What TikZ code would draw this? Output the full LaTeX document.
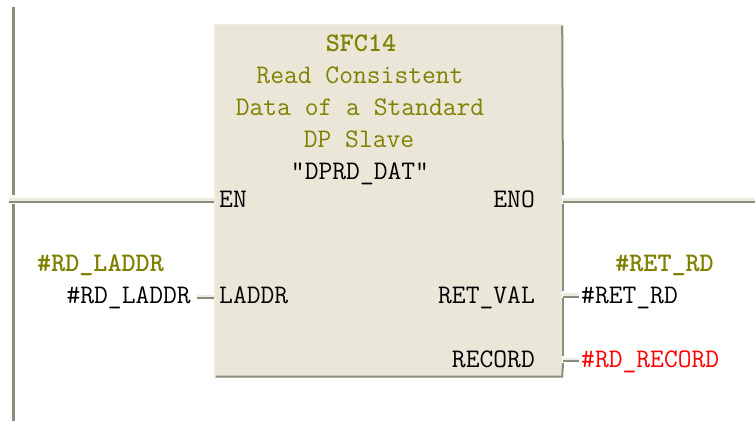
\documentclass[tikz,border=0pt]{standalone}
\definecolor{blockfill}{HTML}{EAE7D8}
\definecolor{wiredark}{HTML}{8C8B7C}
\definecolor{wirelight}{HTML}{EFECDF}
\definecolor{symcolor}{HTML}{808000}
\tikzset{every node/.style={inner sep=0pt,font=\ttfamily\fontsize{26.8}{27}\selectfont},
  sym/.style={text=black},
  title/.style={text=symcolor,anchor=base},
  symname/.style={text=symcolor,font=\ttfamily\bfseries\fontsize{26.8}{27}\selectfont},
  wire/.style={draw=wiredark,line width=2pt,preaction={draw=wirelight,line width=3pt,transform canvas={yshift=2pt}}},
  rail/.style={draw=wiredark,line width=3pt},
  edge/.style={draw=wiredark,line width=2pt}}

\begin{document}
\begin{tikzpicture}[x=1pt,y=-1pt]
      \useasboundingbox (0,0) rectangle (755,421);
      \node (Block) at (388.5,201) [fill=blockfill,minimum width=347pt,minimum height=351pt] {};

      \node[symname,anchor=base] (SFC) at (361,51) {SFC14};
      \node[title] (Read) at (360,83) {Read Consistent};
      \node[title] (Data) at (360,115) {Data of a Standard};
      \node[title] (Slave) at (359,147) {DP Slave};
      \node[sym,anchor=base] (Name) at (360,179) {"DPRD\_DAT"};

      \node[sym,anchor=base west] (EN) at (219,207) {EN};
      \node[sym,anchor=base east] (ENO) at (535,207) {ENO};
      \node[sym,anchor=base west] (LADDR) at (219,303) {LADDR};
      \node[sym,anchor=base east] (RETVAL) at (535,303) {RET\_VAL};
      \node[sym,anchor=base east] (RECORD) at (535,367) {RECORD};

      \node[symname,anchor=base west] (LaddrSym) at (37,271) {\#RD\_LADDR};
      \node[sym,anchor=base east] (LaddrVar) at (191,303) {\#RD\_LADDR};
      \node[symname,anchor=base east] (RetSym) at (714,271) {\#RET\_RD};
      \node[sym,anchor=base west] (RetVar) at (581,303) {\#RET\_RD};
      \node[sym,anchor=base west,text=red] (RecVar) at (581,367) {\#RD\_RECORD};

      \coordinate (RailTop) at (13.5,7);
      \coordinate (RailMid) at (13.5,195);
      \coordinate (RailLow) at (13.5,204);
      \coordinate (RailEnd) at (13.5,421);
      \coordinate (RungIn) at (9,201.5);
      \coordinate (RungOut) at (755,201.5);
      \coordinate (BlockIn) at (214,201.5);
      \coordinate (BlockOut) at (563,201.5);
      \coordinate (StubLaddr) at (197,298);
      \coordinate (PinLaddr) at (214,298);
      \coordinate (PinRet) at (563,296.5);
      \coordinate (StubRet) at (579,296.5);
      \coordinate (PinRec) at (563,361);
      \coordinate (StubRec) at (579,361);

      \draw[rail] (RailTop) -- (RailMid);
      \draw[rail] (RailLow) -- (RailEnd);
      \draw[wire] (RungIn) -- (BlockIn);
      \draw[wire] (BlockOut) -- (RungOut);
      \draw[wire] (StubLaddr) -- (PinLaddr);
      \draw[wire] (PinRet) -- (StubRet);
      \draw[wire] (PinRec) -- (StubRec);

      \draw[edge] (Block.north east) -- (563,195);
      \draw[edge] (563,204) -- (563,291);
      \draw[edge] (563,298) -- (563,356);
      \draw[edge] (563,363) -- (Block.south east) -- (Block.south west);
      \draw[wirelight,line width=2pt] (Block.south west) -- (Block.north west) -- (Block.north east);
    \end{tikzpicture}
\end{document}
